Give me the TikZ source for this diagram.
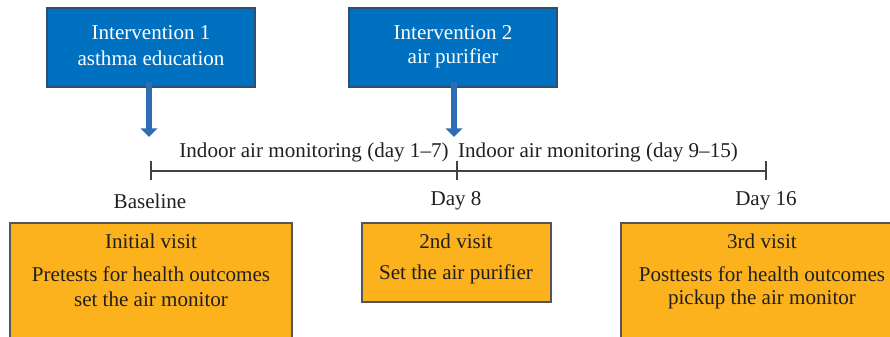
\documentclass[tikz,border=0pt]{standalone}
\usepackage{fontspec}
\setmainfont{Liberation Serif}
\usetikzlibrary{arrows.meta}
\definecolor{boxblue}{HTML}{0070C0}
\definecolor{blueedge}{HTML}{2F4F6F}
\definecolor{arrblue}{HTML}{2E6DB4}
\definecolor{boxorange}{HTML}{FBB21C}
\definecolor{edgegrey}{HTML}{555555}
\definecolor{ink}{HTML}{231F20}
\tikzset{
  bluebox/.style={draw=blueedge, line width=1pt, fill=boxblue, inner sep=0pt},
  orangebox/.style={draw=edgegrey, line width=1.2pt, fill=boxorange, inner sep=0pt},
  wtxt/.style={text=white, font=\fontsize{15.8}{18}\selectfont, inner sep=0pt},
  btxt/.style={text=ink, font=\fontsize{15.8}{18}\selectfont, inner sep=0pt},
  downarrow/.style={draw=arrblue, line width=4.5pt, -{Triangle[width=12.5pt,length=6.5pt]}},
  tline/.style={draw=ink!85, line width=1pt},
}
\begin{document}
\begin{tikzpicture}[x=0.75pt,y=-0.75pt]
\useasboundingbox (0,0) rectangle (890,336);
\begin{scope}
\clip (0,0) rectangle (890,336);
% blue boxes
\node[bluebox, minimum width=208*0.75pt, minimum height=79*0.75pt] (i1) at (151,47.5) {};
\node[bluebox, minimum width=208*0.75pt, minimum height=79*0.75pt] (i2) at (453,47.5) {};
\node[wtxt] (i1a) at (151,33) {Intervention 1};
\node[wtxt] (i1b) at (151,58) {asthma education};
\node[wtxt] (i2a) at (453,33) {Intervention 2};
\node[wtxt] (i2b) at (453,58) {air purifier};
% arrows
\coordinate (a1s) at (149,82);
\coordinate (a1e) at (149,137);
\coordinate (a2s) at (454,82);
\coordinate (a2e) at (454,137);
\draw[downarrow] (a1s) -- (a1e);
\draw[downarrow] (a2s) -- (a2e);
% timeline
\coordinate (t0) at (151,171);
\coordinate (t1) at (457,171);
\coordinate (t2) at (766,171);
\draw[tline] (t0) -- (t2);
\draw[tline] ([yshift=7.5pt]t0) -- ([yshift=-6.75pt]t0);
\draw[tline] ([yshift=7.5pt]t1) -- ([yshift=-6.75pt]t1);
\draw[tline] ([yshift=7.5pt]t2) -- ([yshift=-6.75pt]t2);
\node[btxt] (m1) at (314,152) {Indoor air monitoring (day 1--7)};
\node[btxt] (m2) at (598,152) {Indoor air monitoring (day 9--15)};
\node[btxt] (d0) at (150,201) {Baseline};
\node[btxt] (d8) at (456,201) {Day 8};
\node[btxt] (d16) at (766,201) {Day 16};
% orange boxes
\node[orangebox, minimum width=282*0.75pt, minimum height=127*0.75pt] (v1) at (151,286.5) {};
\node[orangebox, minimum width=189*0.75pt, minimum height=79*0.75pt] (v2) at (456.5,262.5) {};
\node[orangebox, minimum width=282*0.75pt, minimum height=127*0.75pt] (v3) at (762,286.5) {};
\node[btxt] (v1a) at (151,241) {Initial visit};
\node[btxt] (v1b) at (151,274) {Pretests for health outcomes};
\node[btxt] (v1c) at (151,299) {set the air monitor};
\node[btxt] (v2a) at (456,241) {2nd visit};
\node[btxt] (v2b) at (456,274) {Set the air purifier};
\node[btxt] (v3a) at (762,241) {3rd visit};
\node[btxt] (v3b) at (762,274) {Posttests for health outcomes};
\node[btxt] (v3c) at (762,299) {pickup the air monitor};
\end{scope}
\end{tikzpicture}
\end{document}
